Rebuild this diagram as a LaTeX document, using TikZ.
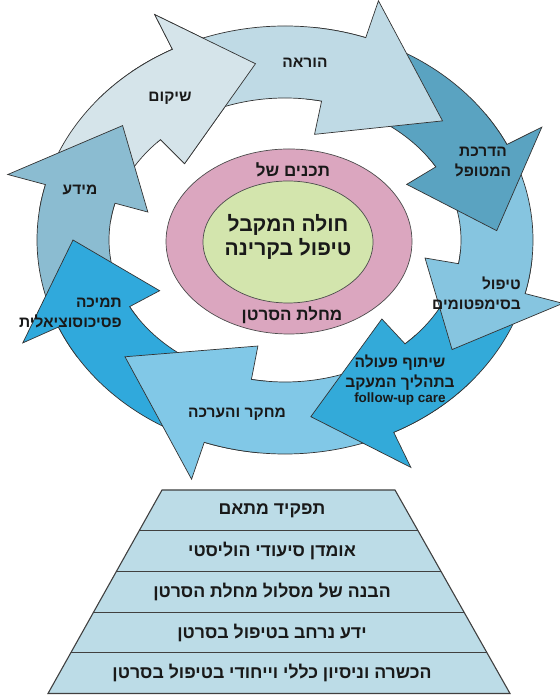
\documentclass[tikz,border=0pt]{standalone}
\usepackage{fontspec}
\newfontfamily\hebfont[Script=Hebrew]{Liberation Sans}
\TeXXeTstate=1
\usetikzlibrary{positioning,calc,shapes.geometric}

\definecolor{shikumfill}{HTML}{D5E4EA}
\definecolor{horaafill}{HTML}{BFDAE5}
\definecolor{hadrachafill}{HTML}{5AA3C1}
\definecolor{tipulfill}{HTML}{86C5E0}
\definecolor{shitufill}{HTML}{33AAD9}
\definecolor{mechkarfill}{HTML}{81C8E7}
\definecolor{tmichafill}{HTML}{30A9DC}
\definecolor{meydafill}{HTML}{8BBCD1}
\definecolor{outerpink}{HTML}{DBA6BF}
\definecolor{innergreen}{HTML}{D3E5AD}
\definecolor{pyrfill}{HTML}{BCDCE7}

\tikzset{
    ring/.style={
           draw=black!80,
           line width=0.7pt,
           },
    lbl/.style={
           font=\hebfont\bfseries\fontsize{15.5}{20}\selectfont,
           text=black!90,
           align=center,
           inner sep=1pt,
           },
    core/.style={
           ellipse,
           draw=black!70,
           line width=0.7pt,
           inner sep=0pt,
           },
    pyr/.style={draw=black!75, line width=1.1pt},
    pyrlbl/.style={
           font=\hebfont\bfseries\fontsize{17.7}{20}\selectfont,
           text=black!90,
           inner sep=0pt,
           },
}

\newcommand{\hebr}[1]{\beginR #1\endR}
% tail, outer barb, inner barb, tip (ellipse angles), fill
\newcommand{\ringarrow}[5]{%
  \filldraw[ring, fill=#5] (#1:248 and 214)
    arc[start angle=#1, end angle=#2, x radius=248, y radius=214]
    -- (#2:287 and 253) -- (#4:212 and 178) -- (#3:142 and 108)
    -- (#3:176 and 142)
    arc[start angle=#3, end angle=#1, x radius=176, y radius=142] -- cycle;
}

\begin{document}
\begin{tikzpicture}[x=1pt,y=1pt,node distance=40.7pt,on grid]
  \useasboundingbox (0,0) rectangle (559,695);

  % cycle of arrows
  \begin{scope}[shift={(285,455)}]
    \ringarrow{172}{117}{135}{98}{shikumfill}
    \ringarrow{213}{165}{165}{140}{meydafill}
    \ringarrow{264}{204}{208}{180}{tmichafill}
    \ringarrow{318}{251}{259}{221}{mechkarfill}
    \ringarrow{355}{296}{313}{277}{shitufill}
    \ringarrow{36}{-14.5}{-9.6}{-38}{tipulfill}
    \ringarrow{83}{26.5}{31}{3}{hadrachafill}
    \ringarrow{128}{71}{78}{42}{horaafill}
    \begin{scope}
      \clip (0,0) -- (85:700 and 588)
        arc[start angle=85, end angle=138, x radius=700, y radius=588] -- cycle;
      \ringarrow{172}{117}{135}{98}{shikumfill}
    \end{scope}
  \end{scope}

  \node[lbl] (shikum)   at (170,597) {\hebr{שיקום}};
  \node[lbl] (horaa)    at (305,632) {\hebr{הוראה}};
  \node[lbl] (hadracha) at (483,533) {\hebr{הדרכת}\\\hebr{המטופל}};
  \node[lbl,align=right,anchor=east] (tipul) at (522,402)
        {\hebr{טיפול}\\\hebr{בסימפטומים}};
  \node[lbl] (shituf)   at (400,315)
        {\hebr{שיתוף פעולה}\\\hebr{בתהליך המעקב}\\[-5pt]{\fontsize{13.5}{15}\selectfont follow-up care}};
  \node[lbl] (mechkar)  at (237,281) {\hebr{מחקר והערכה}};
  \node[lbl,align=right,anchor=east] (tmicha) at (123,382)
        {\hebr{תמיכה}\\\hebr{פסיכוסוציאלית}};
  \node[lbl] (meyda)    at (80,505)  {\hebr{מידע}};

  % centre
  \node[core,fill=outerpink,minimum width=246pt,minimum height=185pt] (disease) at (289,453.5) {};
  \node[core,fill=innergreen,minimum width=170pt,minimum height=122pt] (patient) at (288,453) {};
  \node[lbl,font=\hebfont\bfseries\fontsize{17}{20}\selectfont] (contents) at (293,525) {\hebr{תכנים של}};
  \node[lbl,font=\hebfont\bfseries\fontsize{17}{20}\selectfont] (cancer) at (292,380) {\hebr{מחלת הסרטן}};
  \node[lbl,font=\hebfont\bfseries\fontsize{21}{24}\selectfont] (radio) at (288,458)
        {\hebr{חולה המקבל}\\\hebr{טיפול בקרינה}};

  % pyramid
  \coordinate (pyrtl) at (162,205);
  \coordinate (pyrtr) at (395,205);
  \coordinate (pyrbr) at (510,1.5);
  \coordinate (pyrbl) at (48,1.5);
  \filldraw[pyr,fill=pyrfill] (pyrtl) -- (pyrtr) -- (pyrbr) -- (pyrbl) -- cycle;
  \draw[pyr] ($(pyrtl)!0.2!(pyrbl)$) -- ($(pyrtr)!0.2!(pyrbr)$);
  \draw[pyr] ($(pyrtl)!0.4!(pyrbl)$) -- ($(pyrtr)!0.4!(pyrbr)$);
  \draw[pyr] ($(pyrtl)!0.6!(pyrbl)$) -- ($(pyrtr)!0.6!(pyrbr)$);
  \draw[pyr] ($(pyrtl)!0.8!(pyrbl)$) -- ($(pyrtr)!0.8!(pyrbr)$);

  \node[pyrlbl] (role)      at (272,184.6) {\hebr{תפקיד מתאם}};
  \node[pyrlbl] (holistic)  [below=of role] {\hebr{אומדן סיעודי הוליסטי}};
  \node[pyrlbl] (pathway)   [below=of holistic] {\hebr{הבנה של מסלול מחלת הסרטן}};
  \node[pyrlbl] (knowledge) [below=of pathway] {\hebr{ידע נרחב בטיפול בסרטן}};
  \node[pyrlbl] (training)  [below=of knowledge] {\hebr{הכשרה וניסיון כללי וייחודי בטיפול בסרטן}};
\end{tikzpicture}
\end{document}
